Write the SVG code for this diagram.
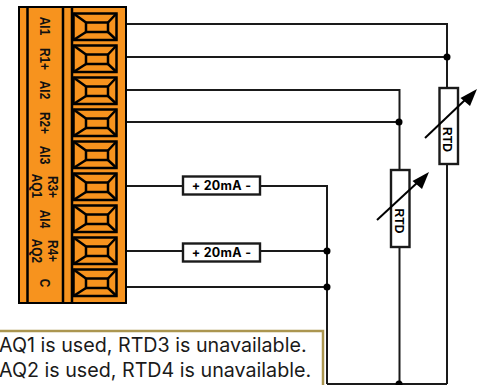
<svg xmlns="http://www.w3.org/2000/svg" width="482" height="385" viewBox="0 0 482 385">
<style>
.w{fill:none;stroke:#1a1a1a;stroke-width:2}
.t{fill:none;stroke:#000;stroke-width:2.500}
.lb{font:bold 14.500px "Liberation Sans",sans-serif;fill:#111;text-anchor:middle}
.rtd{font:bold 13.500px "Liberation Sans",sans-serif;fill:#000;text-anchor:middle}
.ma{font:bold 12.500px Inter,sans-serif;fill:#000;text-anchor:middle;letter-spacing:.3px}
.box{fill:#fff;stroke:#1a1a1a;stroke-width:2.400}
.note{font:19.700px Inter,sans-serif;fill:#1a1a1a}
</style>
<defs>
<g id="term">
<rect x="73.500" y="0.500" width="43" height="26.500" class="t"/>
<rect x="86" y="9.500" width="22" height="9.500" class="t"/>
<path d="M73.500 .5L86 9.500M116.500 .5L108 9.500M73.500 27L86 19M116.500 27L108 19" class="t"/>
</g>
</defs>
<g id="connectors">
<path class="w" d="M126 24H447V88M447 164V384M126 57H447M126 90H399.500V170M399.500 247V384M126 122H399.500M126 186H183M260 186H327V384M126 251H183M260 251H327M126 287H327M327 384H447"/>
<circle cx="447" cy="57" r="3.500"/><circle cx="399" cy="122" r="3.500"/><circle cx="327" cy="251" r="3.500"/><circle cx="327" cy="287" r="3.500"/><circle cx="399" cy="384" r="3.500"/>
</g>
<g id="terminal-block">
<rect x="19" y="7" width="107" height="296" fill="#f7931e" stroke="#000" stroke-width="2"/>
<path d="M27.500 7V303M63 7V303M72 7V303" class="t"/>
<use href="#term" y="13"/><use href="#term" y="45"/><use href="#term" y="77"/><use href="#term" y="109"/><use href="#term" y="141"/><use href="#term" y="173"/><use href="#term" y="205"/><use href="#term" y="237"/><use href="#term" y="269"/>
<g class="lb">
<text transform="translate(40 26) rotate(90) scale(.82 1)">AI1</text>
<text transform="translate(40 59) rotate(90) scale(.82 1)">R1+</text>
<text transform="translate(40 90) rotate(90) scale(.82 1)">AI2</text>
<text transform="translate(40 123) rotate(90) scale(.82 1)">R2+</text>
<text transform="translate(40 155) rotate(90) scale(.82 1)">AI3</text>
<text transform="translate(48 187) rotate(90) scale(.82 1)">R3+</text>
<text transform="translate(32 186) rotate(90) scale(.82 1)">AQ1</text>
<text transform="translate(40 219) rotate(90) scale(.82 1)">AI4</text>
<text transform="translate(48 251) rotate(90) scale(.82 1)">R4+</text>
<text transform="translate(32 251) rotate(90) scale(.82 1)">AQ2</text>
<text transform="translate(40 283) rotate(90) scale(.82 1)">C</text>
</g>
</g>
<g id="rtd-1">
<rect x="439.500" y="88" width="18.500" height="76" class="box"/>
<text class="rtd" transform="translate(443 139.500) rotate(90) scale(.9 1)">RTD</text>
<path d="M425 138L466 99" stroke="#000" stroke-width="2" fill="none"/>
<path d="M477 89L470 106L460.500 98Z"/>
</g>
<g id="rtd-2">
<rect x="391" y="170" width="18.500" height="77" class="box"/>
<text class="rtd" transform="translate(395 221) rotate(90) scale(.9 1)">RTD</text>
<path d="M377 220L418 182" stroke="#000" stroke-width="2" fill="none"/>
<path d="M429 172L422 189L412.500 181Z"/>
</g>
<g id="ma-1"><rect x="183" y="176.500" width="77" height="18" class="box"/><text class="ma" x="221.500" y="190">+ 20mA -</text></g>
<g id="ma-2"><rect x="183" y="243.500" width="77" height="18" class="box"/><text class="ma" x="221.500" y="257">+ 20mA -</text></g>
<g id="note"><rect x="-5" y="331" width="328" height="60" fill="#fff" stroke="#ab9650" stroke-width="2.500"/>
<text class="note" x="-1" y="352">AQ1 is used, RTD3 is unavailable.</text>
<text class="note" x="-1" y="377">AQ2 is used, RTD4 is unavailable.</text></g>
</svg>
